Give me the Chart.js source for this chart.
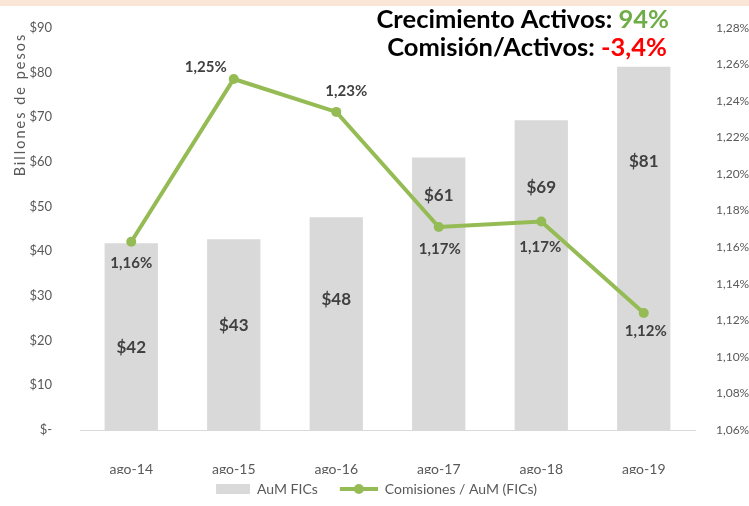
<!DOCTYPE html>
<html>
<head>
<meta charset="utf-8">
<script src="https://cdn.jsdelivr.net/npm/chart.js@4.4.0/dist/chart.umd.min.js"></script>
<style>
  html, body { margin: 0; padding: 0; background: #fff; }
  #wrap { width: 749px; height: 506px; position: relative; }
</style>
</head>
<body>
<div id="wrap"><canvas id="myChart" width="749" height="506"></canvas></div>
<script>
// data
var categories = ['ago-14', 'ago-15', 'ago-16', 'ago-17', 'ago-18', 'ago-19'];
var aumValues = [41.8, 42.7, 47.6, 61.0, 69.3, 81.3];          // billones de pesos
var comisionValues = [1.163, 1.252, 1.234, 1.171, 1.174, 1.124]; // %
var crecimientoActivos = '94%';
var comisionActivos = '-3,4%';

// where the data labels sit (px), Excel placed them by hand
var barLabelDy = [104, 86, 82, 38, 67, 95];
var lineLabelOffsets = [[0, 21], [-28, -12], [10, -21], [1, 22], [-1, 26], [2, 18]];

var FONT = 'Lato, "Open Sans", sans-serif';
var barColor = '#d9d9d9';
var lineColor = '#95bb55';
var textDark = '#404040';
var axisText = '#595959';

function pct(v) {
    return v.toFixed(2).replace('.', ',') + '%';
}

// little images for the legend
function legendBar() {
    var c = document.createElement('canvas');
    c.width = 52; c.height = 10;
    var x = c.getContext('2d');
    x.fillStyle = barColor;
    x.fillRect(18, 0, 34, 10);
    return c;
}
function legendLine() {
    var c = document.createElement('canvas');
    c.width = 52; c.height = 12;
    var x = c.getContext('2d');
    x.strokeStyle = lineColor;
    x.lineWidth = 4;
    x.beginPath(); x.moveTo(14, 6); x.lineTo(52, 6); x.stroke();
    x.fillStyle = lineColor;
    x.beginPath(); x.arc(33, 6, 5, 0, Math.PI * 2); x.fill();
    return c;
}

var extrasPlugin = {
    id: 'extras',
    beforeDraw: function (chart) {
        var ctx = chart.ctx;
        ctx.save();
        ctx.fillStyle = '#fbe5d6';
        ctx.fillRect(0, 0, chart.width, 6);
        ctx.restore();
    },
    afterDatasetsDraw: function (chart) {
        var ctx = chart.ctx;
        var barMeta = chart.getDatasetMeta(0);
        var lineMeta = chart.getDatasetMeta(1);
        ctx.save();
        ctx.fillStyle = textDark;
        ctx.textAlign = 'center';
        ctx.textBaseline = 'middle';
        //bar labels
        ctx.font = 'bold 17px ' + FONT;
        barMeta.data.forEach(function (bar, i) {
            ctx.fillText('$' + Math.round(aumValues[i]), bar.x, bar.y + barLabelDy[i]);
        });
        //line labels
        ctx.font = 'bold 15px ' + FONT;
        lineMeta.data.forEach(function (pt, i) {
            ctx.fillText(pct(comisionValues[i]), pt.x + lineLabelOffsets[i][0], pt.y + lineLabelOffsets[i][1]);
        });
        ctx.restore();
    },
    afterDraw: function (chart) {
        var ctx = chart.ctx;
        ctx.save();
        // axis title, letter spaced like the original
        ctx.translate(20, chart.chartArea.top + 5);
        ctx.rotate(-Math.PI / 2);
        ctx.font = '14.5px ' + FONT;
        ctx.letterSpacing = '2px';
        ctx.fillStyle = axisText;
        ctx.textAlign = 'right';
        ctx.textBaseline = 'middle';
        ctx.fillText('Billones de pesos', 0, 0);
        ctx.restore();

        // headline figures
        ctx.save();
        ctx.font = 'bold 25.5px ' + FONT;
        ctx.textBaseline = 'middle';
        ctx.textAlign = 'right';
        var rows = [
            ['Crecimiento Activos: ', crecimientoActivos, '#70ad47', 669, 20],
            ['Comisión/Activos: ', comisionActivos, '#ff0000', 667, 48]
        ];
        rows.forEach(function (r) {
            ctx.fillStyle = r[2];
            ctx.fillText(r[1], r[3], r[4]);
            var w = ctx.measureText(r[1]).width;
            ctx.fillStyle = '#000';
            ctx.fillText(r[0], r[3] - w, r[4]);
        });
        ctx.restore();
    }
};

var myChart = new Chart(document.getElementById('myChart'), {
    type: 'bar',
    data: {
        labels: categories,
        datasets: [
            {
                type: 'bar',
                label: 'AuM FICs',
                data: aumValues,
                backgroundColor: barColor,
                yAxisID: 'y',
                categoryPercentage: 1,
                barPercentage: 0.52,
                order: 2
            },
            {
                type: 'line',
                label: 'Comisiones / AuM (FICs)',
                data: comisionValues,
                borderColor: lineColor,
                backgroundColor: lineColor,
                borderWidth: 4,
                pointRadius: 5,
                pointBackgroundColor: lineColor,
                pointBorderWidth: 0,
                tension: 0,
                yAxisID: 'y1',
                order: 1
            }
        ]
    },
    options: {
        responsive: false,
        animation: false,
        // negative left padding just pulls the centred legend back a bit
        layout: { padding: { top: 27, left: -14, right: 0, bottom: 0 } },
        plugins: {
            tooltip: { enabled: false },
            legend: {
                position: 'bottom',
                labels: {
                    usePointStyle: true,
                    pointStyleWidth: 52,
                    padding: 8,
                    color: axisText,
                    font: { family: FONT, size: 14 },
                    generateLabels: function (chart) {
                        return [
                            { text: 'AuM FICs', pointStyle: legendBar(), fillStyle: barColor, strokeStyle: barColor, lineWidth: 0, fontColor: axisText, datasetIndex: 0, hidden: false },
                            { text: 'Comisiones / AuM (FICs)', pointStyle: legendLine(), fillStyle: lineColor, strokeStyle: lineColor, lineWidth: 0, fontColor: axisText, datasetIndex: 1, hidden: false }
                        ];
                    }
                }
            }
        },
        scales: {
            x: {
                grid: { display: false },
                border: { display: true, color: '#d9d9d9', width: 1 },
                ticks: { color: axisText, font: { family: FONT, size: 14 }, padding: 23 },
                afterFit: function (scale) { scale.height = 44; }
            },
            y: {
                position: 'left',
                min: 0, max: 90,
                grid: { display: false },
                border: { display: false },
                ticks: {
                    stepSize: 10,
                    padding: 20,
                    color: axisText,
                    font: { family: FONT, size: 13 },
                    callback: function (v) { return v === 0 ? '$-' : '$' + v; }
                },
                afterFit: function (scale) { scale.width = 94; }
            },
            y1: {
                position: 'right',
                min: 1.06, max: 1.28,
                grid: { display: false },
                border: { display: false },
                ticks: {
                    stepSize: 0.02,
                    padding: 13,
                    color: axisText,
                    font: { family: FONT, size: 12 },
                    callback: function (v) { return pct(v); }
                },
                afterFit: function (scale) { scale.width = 54; }
            }
        }
    },
    plugins: [extrasPlugin]
});
</script>
</body>
</html>
